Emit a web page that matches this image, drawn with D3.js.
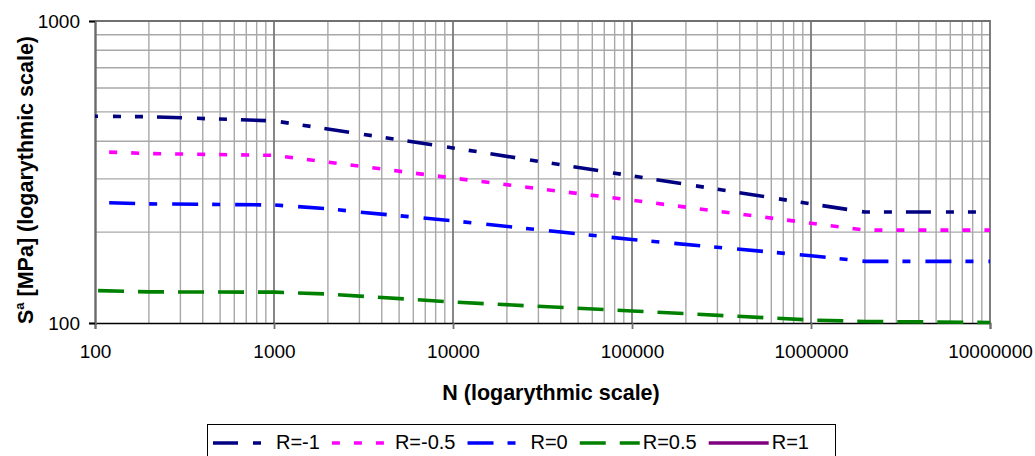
<!DOCTYPE html>
<html>
<head>
<meta charset="utf-8">
<script src="https://cdn.jsdelivr.net/npm/d3@7"></script>
<style>
  body { margin: 0; background: #fff; }
  svg { display: block; font-family: "Liberation Sans", Arial, sans-serif; }
</style>
</head>
<body>
<div id="vis"></div>
<script>
// values
const seriesNames = ["R=-1", "R=-0.5", "R=0", "R=0.5", "R=1"];
const nRm1 = [100, 200, 1000, 10000, 100000, 1000000, 2000000, 10000000];
const sRm1 = [484, 482, 467, 380, 307, 248, 233, 233];
const nRm05 = [120, 200, 1000, 10000, 100000, 1000000, 2000000, 10000000];
const sRm05 = [368, 364, 359, 302, 255, 214, 203, 203];
const nR0 = [120, 200, 1000, 2000, 3000, 10000, 100000, 1000000, 2000000, 10000000];
const sR0 = [250, 248, 246, 239, 233, 218, 189, 167, 160, 160];
const nR05 = [104, 200, 1000, 2000, 10000, 100000, 1000000, 2000000, 10000000];
const sR05 = [128, 126.8, 126.5, 124.7, 117.3, 109.6, 102.3, 101.2, 100.4];
const nR1 = [];
const sR1 = [];
const xTicks = [100, 1000, 10000, 100000, 1000000, 10000000];
const yTicks = [100, 1000];

const styles = [
  { color: "#000080", dash: "25,15,8,14,8,14", offset: 22 },
  { color: "#ff00ff", dash: "8,14", offset: 0 },
  { color: "#0000ff", dash: "26,14,8,15", offset: 0 },
  { color: "#008000", dash: "26,14", offset: 0 },
  { color: "#800080", dash: null, offset: 0 }
];

const series = [
  [nRm1, sRm1], [nRm05, sRm05], [nR0, sR0], [nR05, sR05], [nR1, sR1]
].map(([ns, ss], i) => ({
  name: seriesNames[i],
  values: ns.map((n, j) => ({ n, s: ss[j] }))
}));

const W = 1035, H = 456;
const plot = { left: 95, right: 990, top: 21, bottom: 323 };

const svg = d3.select("#vis").append("svg")
  .attr("width", W)
  .attr("height", H);

const x = d3.scaleLog().domain([100, 10000000]).range([plot.left, plot.right]);
const y = d3.scaleLog().domain([100, 1000]).range([plot.bottom, plot.top]);

// minor grid
const minorX = [];
for (let k = 2; k <= 6; k++) for (let m = 2; m <= 9; m++) minorX.push(m * Math.pow(10, k));
const minorY = [200, 300, 400, 500, 600, 700, 800, 900];

svg.append("g").selectAll("line")
  .data(minorX)
  .join("line")
  .attr("x1", d => x(d)).attr("x2", d => x(d))
  .attr("y1", plot.top).attr("y2", plot.bottom)
  .attr("stroke", "#a8a8a8")
  .attr("stroke-width", 1.4);

svg.append("g").selectAll("line")
  .data(minorY)
  .join("line")
  .attr("x1", plot.left).attr("x2", plot.right)
  .attr("y1", d => y(d)).attr("y2", d => y(d))
  .attr("stroke", "#a8a8a8")
  .attr("stroke-width", 1.4);

// decade lines
svg.append("g").selectAll("line")
  .data(xTicks.slice(1, -1))
  .join("line")
  .attr("x1", d => x(d)).attr("x2", d => x(d))
  .attr("y1", plot.top).attr("y2", plot.bottom)
  .attr("stroke", "#7a7a7a")
  .attr("stroke-width", 1.8);

// top and right border
svg.append("path")
  .attr("d", `M${plot.left},${plot.top}H${plot.right}V${plot.bottom}`)
  .attr("fill", "none")
  .attr("stroke", "#707070")
  .attr("stroke-width", 1.8);

// axes
const xAxis = svg.append("g")
  .attr("transform", `translate(0,${plot.bottom})`)
  .call(d3.axisBottom(x).tickValues(xTicks).tickFormat(d3.format("d")).tickSize(6).tickPadding(16));
xAxis.select(".domain").attr("stroke", "#000").attr("stroke-width", 1.6);
xAxis.selectAll(".tick line").attr("stroke", "#707070").attr("stroke-width", 1.8);
xAxis.selectAll("text").attr("font-size", 19).attr("fill", "#000")
  .attr("font-family", "Liberation Sans, Arial, sans-serif");

const yAxis = svg.append("g")
  .attr("transform", `translate(${plot.left},0)`)
  .call(d3.axisLeft(y).tickValues(yTicks).tickFormat(d3.format("d")).tickSize(6).tickPadding(9));
yAxis.select(".domain").attr("stroke", "#6a6a6a").attr("stroke-width", 2.4);
yAxis.selectAll(".tick line").attr("stroke", "#000").attr("stroke-width", 1.4);
yAxis.selectAll("text").attr("font-size", 19).attr("fill", "#000")
  .attr("font-family", "Liberation Sans, Arial, sans-serif");

// series lines
const line = d3.line()
  .x(d => x(d.n))
  .y(d => y(d.s));

svg.append("g").selectAll("path")
  .data(series.filter(d => d.values.length))
  .join("path")
  .attr("d", d => line(d.values))
  .attr("fill", "none")
  .attr("stroke", d => styles[seriesNames.indexOf(d.name)].color)
  .attr("stroke-width", 3.6)
  .attr("stroke-dasharray", d => styles[seriesNames.indexOf(d.name)].dash)
  .attr("stroke-dashoffset", d => styles[seriesNames.indexOf(d.name)].offset);

// axis titles
svg.append("text")
  .attr("x", 551)
  .attr("y", 400)
  .attr("text-anchor", "middle")
  .attr("font-size", 21.5)
  .attr("font-weight", "bold")
  .text("N (logarythmic scale)");

const yTitle = svg.append("text")
  .attr("transform", "translate(33,180) rotate(-90)")
  .attr("text-anchor", "middle")
  .attr("font-size", 21.5)
  .attr("font-weight", "bold");
yTitle.append("tspan").text("S");
yTitle.append("tspan").attr("font-size", 13).attr("dy", -9).text("a");
yTitle.append("tspan").attr("dy", 9).text(" [MPa] (logarythmic scale)");

// legend
const legend = svg.append("g");
legend.append("rect")
  .attr("x", 207.5).attr("y", 424.5)
  .attr("width", 628).attr("height", 40)
  .attr("fill", "#fff")
  .attr("stroke", "#000")
  .attr("stroke-width", 1);

let lx = 213;
series.forEach((s, i) => {
  const st = styles[i];
  legend.append("line")
    .attr("x1", lx).attr("x2", lx + 60)
    .attr("y1", 443).attr("y2", 443)
    .attr("stroke", st.color)
    .attr("stroke-width", 3.6)
    .attr("stroke-dasharray", st.dash);
  const t = legend.append("text")
    .attr("x", lx + 63)
    .attr("y", 449)
    .attr("font-size", 20)
    .text(s.name);
  lx = lx + 63 + t.node().getComputedTextLength() + 12;
});
</script>
</body>
</html>
